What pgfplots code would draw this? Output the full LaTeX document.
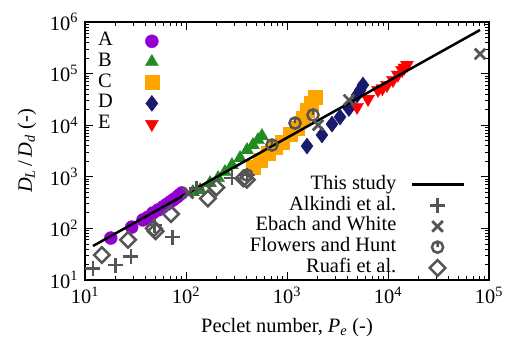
\documentclass[border=0pt]{standalone}
\usepackage{fontspec}
\setmainfont{Liberation Serif}
\usepackage{pgfplots}
\pgfplotsset{compat=1.18}
\definecolor{cA}{HTML}{9400D3}
\definecolor{cB}{HTML}{228B22}
\definecolor{cC}{HTML}{FFA500}
\definecolor{cD}{HTML}{191970}
\definecolor{cE}{HTML}{FF0000}
\definecolor{cG}{HTML}{555555}
\pgfdeclareplotmark{ocirc}{%
  \pgfpathcircle{\pgfpointorigin}{0.8\pgfplotmarksize}%
  \pgfpathmoveto{\pgfqpoint{0pt}{0.8\pgfplotmarksize}}%
  \pgfpathlineto{\pgfqpoint{0pt}{0pt}}%
  \pgfusepathqstroke}
\newcommand\fs{\fontsize{20.5}{24}\selectfont}
\begin{document}
\fs
\begin{tikzpicture}
\begin{axis}[name=ax,
    xmode=log, ymode=log, log basis x=10, log basis y=10,
    xmin=10, xmax=1e5, ymin=10, ymax=1e6,
    scale only axis, width=404bp, height=258bp,
    tick align=inside, major tick length=8bp, minor tick length=4bp,
    tick style={black, line width=0.8bp},
    axis line style={line width=1.2bp},
    tick label style={font=\fs},
    label style={font=\fs},
    xticklabel={\pgfmathparse{int(round(\tick))}10\textsuperscript{\pgfmathresult}},
    yticklabel={\pgfmathparse{int(round(\tick))}10\textsuperscript{\pgfmathresult}},
    legend image code/.code={\path[draw=none,fill=none] (0bp,0bp) (52bp,0bp); \draw[#1, only marks] plot coordinates {(26bp,0bp)};},
  xlabel={Peclet number, \textit{P}\textsubscript{\textit{e}} (-)},
  ylabel={\textit{D}\textsubscript{\textit{L}}\,/\,\textit{D}\textsubscript{\textit{d}} (-)},
  legend style={at={(0.032,0.959)}, anchor=north west, draw=none, fill=none, font=\fs,
    nodes={inner sep=0pt, text height=13bp, text depth=4bp}, row sep=3.7bp, column sep=13bp, inner sep=0pt},
  legend plot pos=right, legend cell align=left,
]
\addplot[only marks, mark=*, mark size=6.5bp, color=cA] coordinates {
(18,65) (29,106) (37.5,146) (42,165) (47,199) (53,228) (59,260) (64,290) (69.5,324) (75,360) (81.5,405) (86,445) (91,486)};
\addlegendentry{A}
\addplot[only marks, mark=triangle*, mark size=7.5bp, color=cB] coordinates {
(117,507) (138,554) (173,758) (208,948) (243,1240) (285,1690) (343,2310) (402,3300) (460,4130) (516,5170) (565,6170)};
\addlegendentry{B}
\addplot[only marks, mark=square*, mark size=7bp, color=cC] coordinates {
(460,1550) (540,2120) (649,2890) (761,3780) (892,4730) (1070,6750) (1256,8820) (1440,13800) (1577,19700) (1729,26900) (1894,35200)};
\addlegendentry{C}
\addplot[only marks, mark=diamond*, mark size=8bp, color=cD] coordinates {
(1578,3950) (2220,6460) (2790,10500) (3350,14400) (4100,21000) (4300,24600) (4940,38500) (5300,48000) (5650,60100)};
\addlegendentry{D}
\addplot[only marks, mark=triangle*, mark size=7.5bp, mark options={rotate=180}, color=cE] coordinates {
(4940,22500) (6340,32200) (7960,48100) (8800,52000) (9770,60100) (11200,75100) (12500,95000) (13800,117000) (14500,130000) (15400,147000)};
\addlegendentry{E}
\end{axis}
\begin{axis}[
    xmode=log, ymode=log, log basis x=10, log basis y=10,
    xmin=10, xmax=1e5, ymin=10, ymax=1e6,
    scale only axis, width=404bp, height=258bp, hide axis,
    legend image code/.code={\path[draw=none,fill=none] (0bp,0bp) (52bp,0bp); \draw[#1, only marks] plot coordinates {(26bp,0bp)};},
  legend style={at={(0.9406,0.013)}, anchor=south east, draw=none, fill=none, font=\fs,
    nodes={inner sep=0pt, text height=13bp, text depth=4bp}, row sep=3.8bp, column sep=14bp, inner sep=0pt},
  legend plot pos=right, legend cell align=right,
]
\addplot[black, line width=2.5bp, no marks, legend image code/.code={\draw[black, line width=2.5bp] (0bp,0bp) -- (52bp,0bp);}] coordinates {(12,45.6) (81500,700000)};
\addlegendentry{This study}
\addplot[only marks, mark=+, mark size=7.5bp, cG, line width=2.8bp] coordinates {
(12,17) (20,19.5) (28.5,29) (49,116) (74,68) (128,600) (285,950) (402,1080)};
\addlegendentry{Alkindi et al.}
\addplot[only marks, mark=x, mark size=7.5bp, cG, line width=2.8bp] coordinates {
(105,485) (2030,10100) (4110,30800) (81500,240000)};
\addlegendentry{Ebach and White}
\addplot[only marks, mark=ocirc, mark size=7bp, cG, line width=2.5bp] coordinates {
(400,1080) (710,4130) (1200,11000) (1810,15800)};
\addlegendentry{Flowers and Hunt}
\addplot[only marks, mark=square, mark size=5.5bp, mark options={rotate=45}, cG, line width=2.5bp] coordinates {
(14.7,30.5) (26.7,60) (48,100) (50,88) (71,190) (165,380) (200,620) (370,930) (400,880)};
\addlegendentry{Ruafi et al.}
\end{axis}
\pgfresetboundingbox
\useasboundingbox ([xshift=-85bp,yshift=-60bp]ax.south west) rectangle ([xshift=21bp,yshift=22bp]ax.north east);
\end{tikzpicture}
\end{document}
